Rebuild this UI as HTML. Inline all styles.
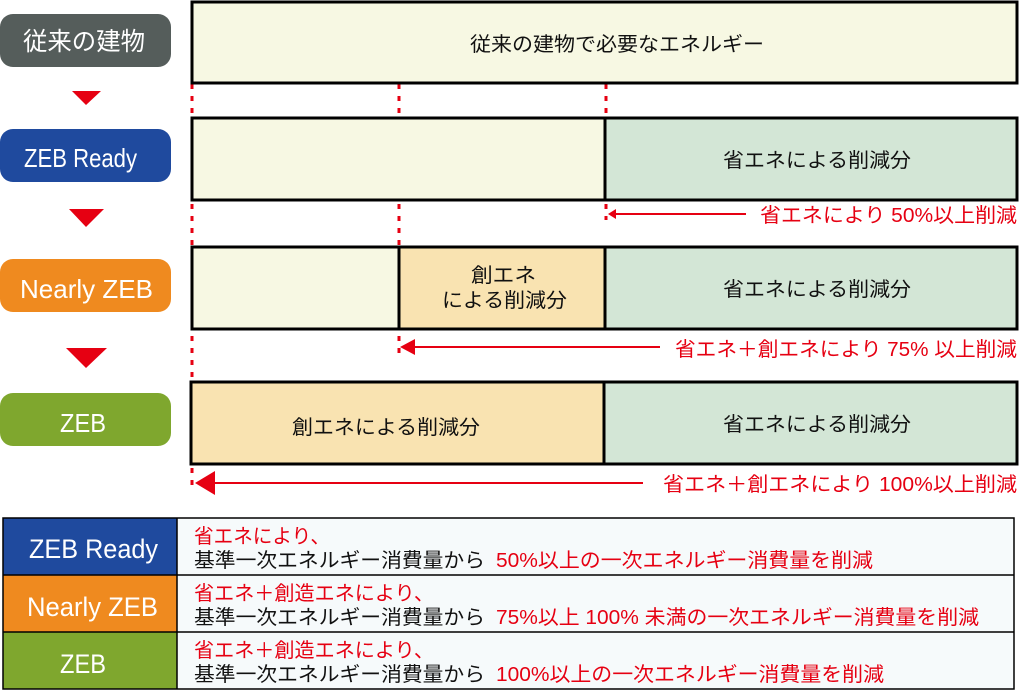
<!DOCTYPE html>
<html><head><meta charset="utf-8"><style>
html,body{margin:0;padding:0;background:#fff;}
svg{display:block;font-family:"Liberation Sans","Noto Sans CJK JP",sans-serif;}
</style></head><body>
<svg width="1020" height="690" viewBox="0 0 1020 690" xmlns="http://www.w3.org/2000/svg">
<rect x="0" y="14" width="171" height="53" rx="13" fill="#555d5b"/>
<text x="23" y="50" font-size="25" fill="#fff" textLength="122" lengthAdjust="spacingAndGlyphs">従来の建物</text>
<rect x="0" y="129" width="171" height="53" rx="13" fill="#1f4a9e"/>
<text x="24" y="167" font-size="26" fill="#fff" textLength="113" lengthAdjust="spacingAndGlyphs">ZEB Ready</text>
<rect x="0" y="259" width="171" height="53" rx="13" fill="#ef8a1f"/>
<text x="20" y="298" font-size="26" fill="#fff" textLength="133" lengthAdjust="spacingAndGlyphs">Nearly ZEB</text>
<rect x="0" y="393" width="171" height="53" rx="13" fill="#7fa72e"/>
<text x="60" y="432" font-size="26" fill="#fff" textLength="46" lengthAdjust="spacingAndGlyphs">ZEB</text>
<polygon points="72,91 101,91 86,105" fill="#e60012"/>
<polygon points="69,209 104,209 86,227" fill="#e60012"/>
<polygon points="66,348 107,348 86,368" fill="#e60012"/>
<g stroke="#e60012" stroke-width="3" stroke-dasharray="5,7">
<line x1="192" y1="84" x2="192" y2="492"/>
<line x1="399" y1="84" x2="399" y2="354"/>
<line x1="606" y1="84" x2="606" y2="220"/>
</g>
<g stroke="#000" stroke-width="3">
<rect x="192" y="2" width="825" height="81" fill="#f7f8e3"/>
<rect x="192" y="118" width="825" height="82" fill="#f7f8e3"/>
<rect x="605" y="118" width="412" height="82" fill="#d3e6d6"/>
<rect x="192" y="247" width="825" height="82" fill="#f7f8e3"/>
<rect x="399" y="247" width="206" height="82" fill="#f9e3b1"/>
<rect x="605" y="247" width="412" height="82" fill="#d3e6d6"/>
<rect x="191" y="382" width="826" height="82" fill="#f9e3b1"/>
<rect x="604" y="382" width="413" height="82" fill="#d3e6d6"/>
</g>
<g font-size="20" fill="#111">
<text x="470" y="51" textLength="294" lengthAdjust="spacingAndGlyphs">従来の建物で必要なエネルギー</text>
<text x="723" y="167" textLength="188" lengthAdjust="spacingAndGlyphs">省エネによる削減分</text>
<text x="723" y="296" textLength="188" lengthAdjust="spacingAndGlyphs">省エネによる削減分</text>
<text x="723" y="431" textLength="188" lengthAdjust="spacingAndGlyphs">省エネによる削減分</text>
<text x="471" y="282" textLength="65" lengthAdjust="spacingAndGlyphs">創エネ</text>
<text x="442" y="307" textLength="125" lengthAdjust="spacingAndGlyphs">による削減分</text>
<text x="292" y="434" textLength="188" lengthAdjust="spacingAndGlyphs">創エネによる削減分</text>
</g>
<g stroke="#e60012" stroke-width="2">
<line x1="612" y1="214" x2="746" y2="214"/>
<line x1="410" y1="347" x2="660" y2="347"/>
<line x1="210" y1="483" x2="643" y2="483"/>
</g>
<g fill="#e60012">
<polygon points="608,214 616,209 616,219"/>
<polygon points="400,347 415,339 415,355"/>
<polygon points="195,483 215,471 215,495"/>
</g>
<g font-size="20" fill="#e60012">
<text x="760" y="222" textLength="257" lengthAdjust="spacingAndGlyphs">省エネにより 50%以上削減</text>
<text x="675" y="356" textLength="342" lengthAdjust="spacingAndGlyphs">省エネ＋創エネにより 75% 以上削減</text>
<text x="663" y="491" textLength="354" lengthAdjust="spacingAndGlyphs">省エネ＋創エネにより 100%以上削減</text>
</g>
<rect x="3" y="518" width="1011" height="171" fill="#f6fafb"/>
<rect x="3" y="518" width="174" height="57" fill="#1f4a9e"/>
<rect x="3" y="575" width="174" height="57" fill="#ef8a1f"/>
<rect x="3" y="632" width="174" height="57" fill="#7fa72e"/>
<g stroke="#000" stroke-width="1.5" fill="none">
<rect x="3" y="518" width="1011" height="171"/>
<line x1="3" y1="575" x2="1014" y2="575"/>
<line x1="3" y1="632" x2="1014" y2="632"/>
<line x1="177" y1="518" x2="177" y2="689"/>
</g>
<g font-size="27" fill="#fff">
<text x="29" y="558" textLength="129" lengthAdjust="spacingAndGlyphs">ZEB Ready</text>
<text x="27" y="616" textLength="131" lengthAdjust="spacingAndGlyphs">Nearly ZEB</text>
<text x="60" y="673" textLength="46" lengthAdjust="spacingAndGlyphs">ZEB</text>
</g>
<g font-size="20">
<text x="194" y="543" fill="#e60012" textLength="136" lengthAdjust="spacingAndGlyphs">省エネにより、</text>
<text x="194" y="567" fill="#111" textLength="291" lengthAdjust="spacingAndGlyphs">基準一次エネルギー消費量から</text>
<text x="496" y="567" fill="#e60012" textLength="377" lengthAdjust="spacingAndGlyphs">50%以上の一次エネルギー消費量を削減</text>
<text x="194" y="600" fill="#e60012" textLength="240" lengthAdjust="spacingAndGlyphs">省エネ＋創造エネにより、</text>
<text x="194" y="624" fill="#111" textLength="291" lengthAdjust="spacingAndGlyphs">基準一次エネルギー消費量から</text>
<text x="496" y="624" fill="#e60012" textLength="483" lengthAdjust="spacingAndGlyphs">75%以上 100% 未満の一次エネルギー消費量を削減</text>
<text x="194" y="657" fill="#e60012" textLength="240" lengthAdjust="spacingAndGlyphs">省エネ＋創造エネにより、</text>
<text x="194" y="681" fill="#111" textLength="291" lengthAdjust="spacingAndGlyphs">基準一次エネルギー消費量から</text>
<text x="496" y="681" fill="#e60012" textLength="388" lengthAdjust="spacingAndGlyphs">100%以上の一次エネルギー消費量を削減</text>
</g>
</svg>
</body></html>
